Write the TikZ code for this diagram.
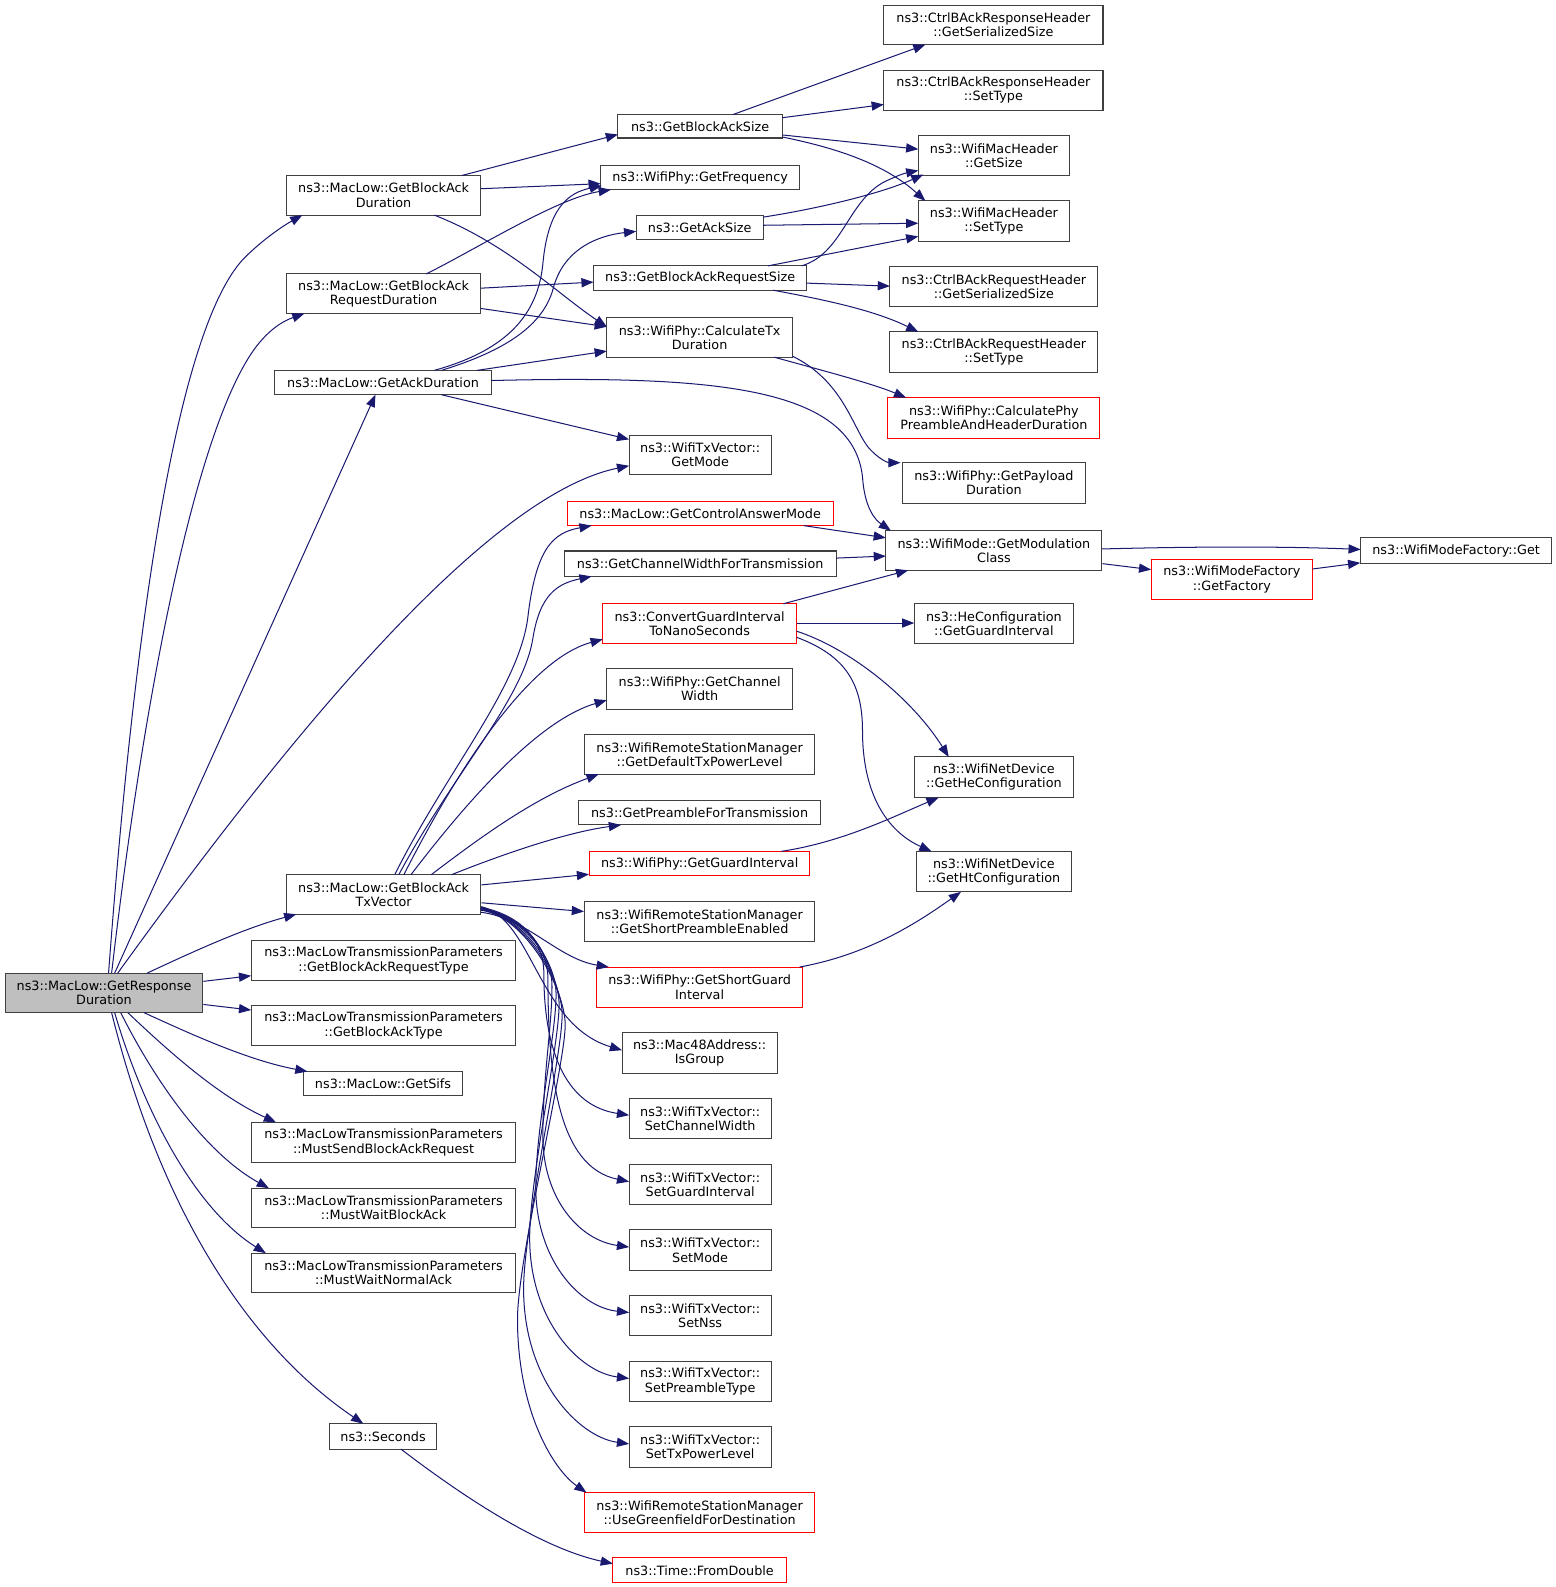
\documentclass[tikz,border=0pt]{standalone}
\usepackage{fontspec}
\setmainfont{DejaVu Sans}
\usetikzlibrary{arrows.meta}
\definecolor{edgeblue}{HTML}{191970}
\definecolor{boxborder}{HTML}{404040}
\definecolor{rootfill}{HTML}{BFBFBF}
\definecolor{redborder}{HTML}{FF0000}
\newcommand{\fbx}[7]{\node[#7, minimum width={(#4-#2)*1pt}, minimum height={(#5-#3)*1pt}] (#1) at ({(#2+#4)/2},{(#3+#5)/2}) {#6};}
\begin{document}
\begin{tikzpicture}[x=1pt,y=-1pt,
  box/.style={draw=boxborder, fill=white, line width=1pt, inner sep=0pt, align=center, font=\fontsize{12.6}{14}\selectfont},
  redbox/.style={box, draw=redborder},
  rootbox/.style={box, fill=rootfill},
  call/.style={draw=edgeblue, line width=1pt, -{Triangle[length=12pt,width=9pt]}}]
\useasboundingbox (0,0) rectangle (1533,1564);
% column 1
\fbx{r}{5}{959}{200}{998}{ns3::MacLow::GetResponse\\Duration}{rootbox}
\fbx{bad}{282}{173}{474}{212}{ns3::MacLow::GetBlockAck\\Duration}{box}
\fbx{bard}{282}{270}{474}{309}{ns3::MacLow::GetBlockAck\\RequestDuration}{box}
\fbx{ad}{271}{365}{484}{389}{ns3::MacLow::GetAckDuration}{box}
\fbx{txv}{282}{862}{474}{901}{ns3::MacLow::GetBlockAck\\TxVector}{box}
\fbx{bart}{248}{927}{508}{966}{ns3::MacLowTransmissionParameters\\::GetBlockAckRequestType}{box}
\fbx{bat}{248}{991}{508}{1030}{ns3::MacLowTransmissionParameters\\::GetBlockAckType}{box}
\fbx{sifs}{299}{1056}{456}{1080}{ns3::MacLow::GetSifs}{box}
\fbx{msb}{248}{1106}{508}{1146}{ns3::MacLowTransmissionParameters\\::MustSendBlockAckRequest}{box}
\fbx{mwba}{248}{1171}{508}{1210}{ns3::MacLowTransmissionParameters\\::MustWaitBlockAck}{box}
\fbx{mwna}{248}{1235}{508}{1274}{ns3::MacLowTransmissionParameters\\::MustWaitNormalAck}{box}
\fbx{sec}{325}{1403}{430}{1428}{ns3::Seconds}{box}
% column 2
\fbx{gbas}{609}{113}{771}{136}{ns3::GetBlockAckSize}{box}
\fbx{gf}{592}{163}{788}{187}{ns3::WifiPhy::GetFrequency}{box}
\fbx{gas}{627}{212}{752}{236}{ns3::GetAckSize}{box}
\fbx{gbars}{585}{262}{795}{286}{ns3::GetBlockAckRequestSize}{box}
\fbx{ctd}{598}{313}{781}{352}{ns3::WifiPhy::CalculateTx\\Duration}{box}
\fbx{gm}{620}{429}{760}{468}{ns3::WifiTxVector::\\GetMode}{box}
\fbx{gcam}{559}{494}{821}{518}{ns3::MacLow::GetControlAnswerMode}{redbox}
\fbx{gcwft}{556}{543}{824}{568}{ns3::GetChannelWidthForTransmission}{box}
\fbx{cgi}{594}{595}{785}{634}{ns3::ConvertGuardInterval\\ToNanoSeconds}{redbox}
\fbx{gcw}{598}{659}{781}{699}{ns3::WifiPhy::GetChannel\\Width}{box}
\fbx{gdtpl}{576}{724}{803}{763}{ns3::WifiRemoteStationManager\\::GetDefaultTxPowerLevel}{box}
\fbx{gpft}{570}{789}{809}{813}{ns3::GetPreambleForTransmission}{box}
\fbx{ggi}{581}{839}{798}{863}{ns3::WifiPhy::GetGuardInterval}{redbox}
\fbx{gspe}{576}{888}{803}{928}{ns3::WifiRemoteStationManager\\::GetShortPreambleEnabled}{box}
\fbx{gsgi}{588}{953}{791}{993}{ns3::WifiPhy::GetShortGuard\\Interval}{redbox}
\fbx{isg}{613}{1018}{766}{1058}{ns3::Mac48Address::\\IsGroup}{box}
\fbx{scw}{620}{1083}{760}{1122}{ns3::WifiTxVector::\\SetChannelWidth}{box}
\fbx{sgi}{620}{1148}{760}{1187}{ns3::WifiTxVector::\\SetGuardInterval}{box}
\fbx{sm}{620}{1212}{760}{1252}{ns3::WifiTxVector::\\SetMode}{box}
\fbx{sn}{620}{1277}{760}{1316}{ns3::WifiTxVector::\\SetNss}{box}
\fbx{spt}{620}{1342}{760}{1381}{ns3::WifiTxVector::\\SetPreambleType}{box}
\fbx{stpl}{620}{1406}{760}{1446}{ns3::WifiTxVector::\\SetTxPowerLevel}{box}
\fbx{ugfd}{576}{1471}{803}{1510}{ns3::WifiRemoteStationManager\\::UseGreenfieldForDestination}{redbox}
\fbx{fd}{604}{1535}{775}{1560}{ns3::Time::FromDouble}{redbox}
% column 3
\fbx{rgss}{871}{5}{1087}{44}{ns3::CtrlBAckResponseHeader\\::GetSerializedSize}{box}
\fbx{rst}{871}{69}{1087}{109}{ns3::CtrlBAckResponseHeader\\::SetType}{box}
\fbx{mhgs}{905}{134}{1054}{173}{ns3::WifiMacHeader\\::GetSize}{box}
\fbx{mhst}{905}{198}{1054}{238}{ns3::WifiMacHeader\\::SetType}{box}
\fbx{qgss}{877}{263}{1082}{302}{ns3::CtrlBAckRequestHeader\\::GetSerializedSize}{box}
\fbx{qst}{877}{327}{1082}{367}{ns3::CtrlBAckRequestHeader\\::SetType}{box}
\fbx{cpph}{875}{392}{1084}{432}{ns3::WifiPhy::CalculatePhy\\PreambleAndHeaderDuration}{redbox}
\fbx{gpd}{889}{456}{1070}{496}{ns3::WifiPhy::GetPayload\\Duration}{box}
\fbx{gmc}{873}{523}{1086}{562}{ns3::WifiMode::GetModulation\\Class}{box}
\fbx{hggi}{901}{595}{1058}{634}{ns3::HeConfiguration\\::GetGuardInterval}{box}
\fbx{ghec}{901}{746}{1058}{786}{ns3::WifiNetDevice\\::GetHeConfiguration}{box}
\fbx{ghtc}{903}{839}{1056}{879}{ns3::WifiNetDevice\\::GetHtConfiguration}{box}
% column 4
\fbx{gfac}{1135}{551}{1293}{591}{ns3::WifiModeFactory\\::GetFactory}{redbox}
\fbx{mfg}{1341}{530}{1529}{555}{ns3::WifiModeFactory::Get}{box}

% ---- edges from root
\draw[call] ([shift={(4.5,-19.5)}]r.center) .. controls (130,650) and (170,330) .. (240,255) .. controls (260,235) and (280,222) .. ([shift={(-80,19.5)}]bad.center);
\draw[call] ([shift={(7.5,-19.5)}]r.center) .. controls (140,700) and (190,430) .. (250,345) .. controls (265,324) and (280,316) .. ([shift={(-78,19.5)}]bard.center);
\draw[call] ([shift={(10.5,-19.5)}]r.center) -- ([shift={(-7.5,12)}]ad.center);
\draw[call] ([shift={(13.5,-19.5)}]r.center) .. controls (260,760) and (470,490) .. ([shift={(-70,10.5)}]gm.center);
\draw[call] ([shift={(42.5,-19.5)}]r.center) .. controls (190,938) and (240,915) .. ([shift={(-86,19.5)}]txv.center);
\draw[call] (r) -- (bart);
\draw[call] (r) -- (bat);
\draw[call] ([shift={(39.5,19.5)}]r.center) .. controls (190,1020) and (245,1045) .. ([shift={(-74.5,-12)}]sifs.center);
\draw[call] ([shift={(23.5,19.5)}]r.center) .. controls (165,1035) and (215,1080) .. ([shift={(-106,-20)}]msb.center);
\draw[call] ([shift={(16.5,19.5)}]r.center) .. controls (150,1060) and (200,1135) .. ([shift={(-113,-19.5)}]mwba.center);
\draw[call] ([shift={(10.5,19.5)}]r.center) .. controls (140,1090) and (190,1190) .. ([shift={(-116,-19.5)}]mwna.center);
\draw[call] ([shift={(7.5,19.5)}]r.center) .. controls (160,1200) and (250,1330) .. ([shift={(-19.5,-12.5)}]sec.center);
% ---- GetBlockAckDuration
\draw[call] ([shift={(77,-19.5)}]bad.center) -- ([shift={(-81,8)}]gbas.center);
\draw[call] ([shift={(96,-6.5)}]bad.center) -- ([shift={(-98,6)}]gf.center);
\draw[call] ([shift={(50,19.5)}]bad.center) .. controls (500,240) and (550,290) .. ([shift={(-91.5,-10.5)}]ctd.center);
% ---- GetBlockAckRequestDuration
\draw[call] ([shift={(42,-19.5)}]bard.center) .. controls (470,245) and (550,195) .. ([shift={(-88,12)}]gf.center);
\draw[call] ([shift={(96,-5.5)}]bard.center) -- ([shift={(-105,4)}]gbars.center);
\draw[call] ([shift={(96,14.5)}]bard.center) -- ([shift={(-91.5,-10.5)}]ctd.center);
% ---- GetAckDuration
\draw[call] ([shift={(50.5,-12)}]ad.center) .. controls (500,345) and (530,310) .. (535,260) .. controls (540,205) and (560,190) .. ([shift={(-97,8)}]gf.center);
\draw[call] ([shift={(57.5,-12)}]ad.center) .. controls (500,345) and (535,320) .. (545,285) .. controls (555,245) and (590,232) .. ([shift={(-62.5,4)}]gas.center);
\draw[call] ([shift={(92.5,-12)}]ad.center) -- ([shift={(-91.5,13.5)}]ctd.center);
\draw[call] ([shift={(106.5,-2)}]ad.center) .. controls (700,370) and (840,380) .. (850,470) .. controls (852,500) and (862,512) .. ([shift={(-101.5,-19.5)}]gmc.center);
\draw[call] ([shift={(57.5,12)}]ad.center) -- ([shift={(-70,-15.5)}]gm.center);
% ---- GetBlockAckSize
\draw[call] ([shift={(32,-11.5)}]gbas.center) -- ([shift={(-67,19.5)}]rgss.center);
\draw[call] ([shift={(81,-8.5)}]gbas.center) -- ([shift={(-108,14)}]rst.center);
\draw[call] ([shift={(81,8.5)}]gbas.center) -- ([shift={(-74.5,-6.5)}]mhgs.center);
\draw[call] ([shift={(81,10.5)}]gbas.center) .. controls (820,145) and (870,160) .. ([shift={(-67.5,-20)}]mhst.center);
% ---- GetAckSize
\draw[call] ([shift={(62.5,-10)}]gas.center) .. controls (810,205) and (870,190) .. ([shift={(-69.5,18.5)}]mhgs.center);
\draw[call] ([shift={(62.5,-2)}]gas.center) -- ([shift={(-74.5,2)}]mhst.center);
% ---- GetBlockAckRequestSize
\draw[call] ([shift={(100,-12)}]gbars.center) .. controls (830,250) and (835,200) .. (870,180) .. controls (880,175) and (890,171) .. ([shift={(-74.5,14.5)}]mhgs.center);
\draw[call] ([shift={(67,-12)}]gbars.center) -- ([shift={(-74.5,15)}]mhst.center);
\draw[call] ([shift={(105,5)}]gbars.center) -- ([shift={(-102.5,-0.5)}]qgss.center);
\draw[call] ([shift={(72,12)}]gbars.center) .. controls (810,295) and (860,305) .. ([shift={(-74.5,-20)}]qst.center);
% ---- CalculateTxDuration
\draw[call] ([shift={(73.5,19.5)}]ctd.center) .. controls (810,365) and (860,378) .. ([shift={(-86.5,-20)}]cpph.center);
\draw[call] ([shift={(91.5,18.5)}]ctd.center) .. controls (830,375) and (840,420) .. (855,440) .. controls (865,452) and (875,456) .. ([shift={(-92,-20)}]gpd.center);
% ---- to GetModulationClass
\draw[call] ([shift={(102,12)}]gcam.center) -- ([shift={(-106.5,-12.5)}]gmc.center);
\draw[call] ([shift={(134,-5.5)}]gcwft.center) -- ([shift={(-106.5,5.5)}]gmc.center);
\draw[call] ([shift={(82.5,-19.5)}]cgi.center) -- ([shift={(-84.5,19.5)}]gmc.center);
% ---- ConvertGuardInterval
\draw[call] ([shift={(95.5,-0.5)}]cgi.center) -- ([shift={(-78.5,-0.5)}]hggi.center);
\draw[call] ([shift={(95.5,7.5)}]cgi.center) .. controls (840,640) and (900,690) .. ([shift={(-44.5,-20)}]ghec.center);
\draw[call] ([shift={(95.5,13.5)}]cgi.center) .. controls (830,645) and (850,670) .. (850,720) .. controls (850,790) and (880,822) .. ([shift={(-61.5,-20)}]ghtc.center);
\draw[call] ([shift={(80.5,-12)}]ggi.center) .. controls (830,830) and (880,805) .. ([shift={(-54.5,20)}]ghec.center);
\draw[call] ([shift={(98.5,-20)}]gsgi.center) .. controls (860,940) and (910,905) .. ([shift={(-32.5,20)}]ghtc.center);
% ---- WifiMode / factory
\draw[call] ([shift={(106.5,-1.5)}]gmc.center) .. controls (1200,538) and (1280,539) .. ([shift={(-94,-1)}]mfg.center);
\draw[call] (gmc) -- (gfac);
\draw[call] (gfac) -- (mfg);
% ---- Seconds
\draw[call] ([shift={(17.5,12.5)}]sec.center) .. controls (450,1470) and (530,1525) .. ([shift={(-85.5,-6.5)}]fd.center);
% ---- GetBlockAckTxVector
\draw[call] ([shift={(11,-19.5)}]txv.center) .. controls (440,760) and (510,680) .. (520,610) .. controls (528,540) and (545,525) .. ([shift={(-107,12)}]gcam.center);
\draw[call] ([shift={(15,-19.5)}]txv.center) .. controls (445,765) and (515,690) .. (525,630) .. controls (532,585) and (550,575) .. ([shift={(-107,12.5)}]gcwft.center);
\draw[call] ([shift={(20,-19.5)}]txv.center) .. controls (450,760) and (520,650) .. ([shift={(-95.5,15.5)}]cgi.center);
\draw[call] ([shift={(27,-19.5)}]txv.center) .. controls (460,790) and (530,710) .. ([shift={(-91.5,11)}]gcw.center);
\draw[call] ([shift={(47,-19.5)}]txv.center) .. controls (480,820) and (530,785) .. ([shift={(-99.5,19.5)}]gdtpl.center);
\draw[call] ([shift={(67,-19.5)}]txv.center) .. controls (500,840) and (560,820) .. ([shift={(-77.5,12)}]gpft.center);
\draw[call] (txv) -- (ggi);
\draw[call] (txv) -- (gspe);
\draw[call] ([shift={(96,17.5)}]txv.center) .. controls (520,905) and (550,945) .. ([shift={(-89.5,-20)}]gsgi.center);
\draw[call] ([shift={(96,12)}]txv.center) .. controls (525,905) and (530,1010) .. ([shift={(-76.5,-3)}]isg.center);
\draw[call] ([shift={(96,12.5)}]txv.center) .. controls (512,902) and (536,925) .. (536,960) .. controls (536,1040) and (560,1090) .. ([shift={(-70,-3.5)}]scw.center);
\draw[call] ([shift={(96,13)}]txv.center) .. controls (513,903) and (540,930) .. (540,965) .. controls (540,1060) and (550,1150) .. ([shift={(-70,-3)}]sgi.center);
\draw[call] ([shift={(96,13.5)}]txv.center) .. controls (514,903) and (544,937) .. (544,972) .. controls (544,1012) and (535,1060) .. (535,1120) .. controls (535,1180) and (570,1222) .. ([shift={(-70,-3)}]sm.center);
\draw[call] ([shift={(96,14)}]txv.center) .. controls (515,903) and (548,945) .. (548,980) .. controls (548,1020) and (528,1110) .. (528,1170) .. controls (528,1240) and (570,1288) .. ([shift={(-70,-3)}]sn.center);
\draw[call] ([shift={(96,14.5)}]txv.center) .. controls (516,903) and (551,955) .. (551,990) .. controls (551,1030) and (522,1160) .. (522,1220) .. controls (522,1300) and (570,1352) .. ([shift={(-70,-3)}]spt.center);
\draw[call] ([shift={(96,15)}]txv.center) .. controls (517,903) and (554,965) .. (554,1000) .. controls (554,1040) and (516,1210) .. (516,1270) .. controls (516,1360) and (570,1416) .. ([shift={(-70,-3)}]stpl.center);
\draw[call] ([shift={(96,15.5)}]txv.center) .. controls (518,903) and (557,975) .. (557,1010) .. controls (557,1050) and (510,1240) .. (510,1300) .. controls (510,1390) and (545,1448) .. ([shift={(-111.5,-19.5)}]ugfd.center);
\end{tikzpicture}
\end{document}
